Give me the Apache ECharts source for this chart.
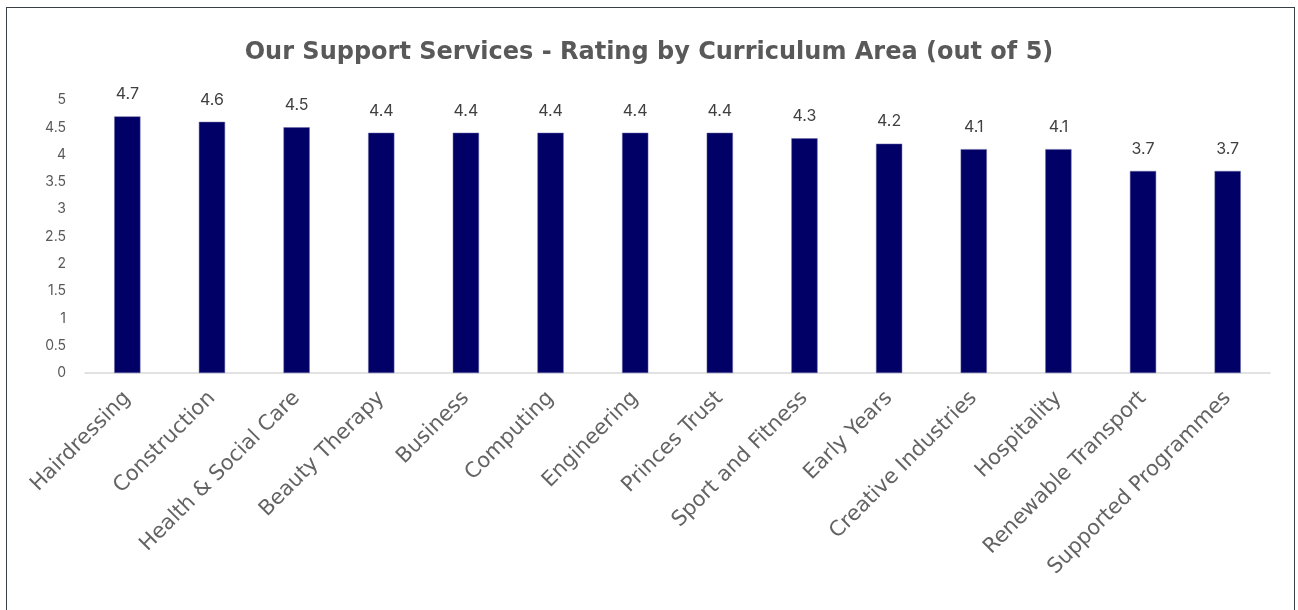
<!DOCTYPE html>
<html>
<head>
<meta charset="utf-8">
<script src="https://cdn.jsdelivr.net/npm/echarts@6/dist/echarts.min.js"></script>
<style>
html,body{margin:0;padding:0;background:#fff;}
#frame{position:absolute;left:6px;top:7px;width:1289px;height:620px;border:1.5px solid #3a3f44;box-sizing:border-box;}
#main{position:absolute;left:0;top:0;width:1298px;height:610px;}
</style>
</head>
<body>
<div id="frame"></div>
<div id="main"></div>
<script>
const categories = ["Hairdressing","Construction","Health & Social Care","Beauty Therapy","Business","Computing","Engineering","Princes Trust","Sport and Fitness","Early Years","Creative Industries","Hospitality","Renewable Transport","Supported Programmes"];
const ratings = [4.7,4.6,4.5,4.4,4.4,4.4,4.4,4.4,4.3,4.2,4.1,4.1,3.7,3.7];
const titleText = "Our Support Services - Rating by Curriculum Area (out of 5)";

const chart = echarts.init(document.getElementById('main'));
const font = "'DejaVu Sans', sans-serif";
const font2 = "Inter, 'Noto Sans', sans-serif";
chart.setOption({
  animation:false,
  title:{text:titleText,left:'center',top:36,textStyle:{fontFamily:font,fontWeight:'bold',fontSize:24,color:'#595959'}},
  grid:{left:85,right:28,top:100,bottom:237,containLabel:false},
  xAxis:{type:'category',data:categories,
    axisLine:{lineStyle:{color:'#d9d9d9',width:1.5}},
    axisTick:{show:false},
    axisLabel:{rotate:45,interval:0,margin:22,fontFamily:font,fontSize:21,color:'#636363'}},
  yAxis:{type:'value',min:0,max:5,interval:0.5,
    splitLine:{show:false},axisLine:{show:false},axisTick:{show:false},
    axisLabel:{fontFamily:font2,fontSize:14,color:'#595959',margin:19}},
  series:[{type:'bar',data:ratings,barWidth:'31%',
    itemStyle:{color:'#000066',borderColor:'#6b6ba8',borderWidth:0.5},
    label:{show:true,position:'top',distance:14,fontFamily:font2,fontSize:16,color:'#404040'}}]
});
</script>
</body>
</html>
